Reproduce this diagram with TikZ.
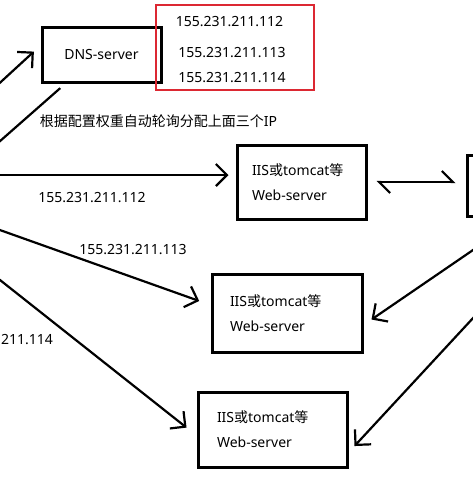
\documentclass[tikz,border=0pt]{standalone}
\usepackage{fontspec}
\setmainfont{Noto Sans}
\newfontfamily\cjk{Noto Sans CJK SC}
\usetikzlibrary{arrows.meta}
\definecolor{ipred}{RGB}{220,40,50}
\tikzset{
	srvbox/.style={draw, line width=3pt, inner ysep=0pt, align=left},
	ipbox/.style={draw=ipred, line width=2.4pt, minimum width=158pt, minimum height=85pt},
	wire/.style={line width=2.2pt},
	arr/.style={wire, -{Straight Barb[length=11pt,width=22pt]}},
	duplex/.style={wire, {Straight Barb[harpoon,length=11pt,width=22pt]}-{Straight Barb[harpoon,length=11pt,width=22pt]}},
}
\begin{document}
\begin{tikzpicture}[x=1pt, y=-1pt, font=\fontsize{14pt}{25pt}\selectfont]
	\clip (0,0) rectangle (473,477);
	\node[srvbox, minimum width=119pt, minimum height=55pt, align=center] (dns) at (101.5,54.5) {DNS-server};
	\node[ipbox] (iplist) at (235,47.5) {};
	\node (ip1) at (229.5,22) {155.231.211.112};
	\node (ip2) at (232,53) {155.231.211.113};
	\node (ip3) at (232,78) {155.231.211.114};
	\node (note) at (158.5,121) {{\cjk 根据配置权重自动轮询分配上面三个}IP};
	\node[srvbox, inner xsep=15pt, text width=99pt, minimum height=74pt] (web1) at (301.5,182) {IIS{\cjk 或}tomcat{\cjk 等}\\Web-server};
	\node[srvbox, inner xsep=18pt, text width=114pt, minimum height=78pt] (web2) at (287,313) {IIS{\cjk 或}tomcat{\cjk 等}\\Web-server};
	\node[srvbox, inner xsep=19pt, text width=111pt, minimum height=75pt] (web3) at (272.5,429.5) {IIS{\cjk 或}tomcat{\cjk 等}\\Web-server};
	\node[srvbox, minimum width=60pt, minimum height=61pt] (lb) at (497,185.5) {};
	\coordinate (c1) at (-10,91.9);
	\coordinate (c2) at (-10,149.9);
	\coordinate (c3) at (-10,175);
	\coordinate (c4) at (-10,226.5);
	\coordinate (c5) at (-10,272.1);
	\coordinate (c6) at (483,243.2);
	\coordinate (c7) at (483,307.3);
	\draw[arr, shorten >=9pt] (c1) -- ([yshift=9pt]dns.west);
	\draw[wire, shorten <=7pt] ([xshift=25pt]dns.south west) -- (c2);
	\draw[arr, shorten >=7pt] (c3) -- ([yshift=7pt]web1.west);
	\node (lbl1) at (92,198) {155.231.211.112};
	\draw[duplex, shorten <=9pt, shorten >=10pt] (web1.east) -- (web1.east -| lb.west);
	\draw[arr, shorten >=12pt] (c4) -- ([yshift=8pt]web2.west);
	\node (lbl2) at (133,250) {155.231.211.113};
	\draw[arr, shorten >=12.7pt] (c5) -- ([yshift=-6pt]web3.west);
	\node (lbl3) at (27,340) {211.114};
	\draw[arr, shorten >=9.7pt] (c6) -- ([yshift=-12pt]web2.east);
	\draw[arr, shorten >=8.8pt] (c7) -- ([yshift=-23pt]web3.east);
\end{tikzpicture}
\end{document}
